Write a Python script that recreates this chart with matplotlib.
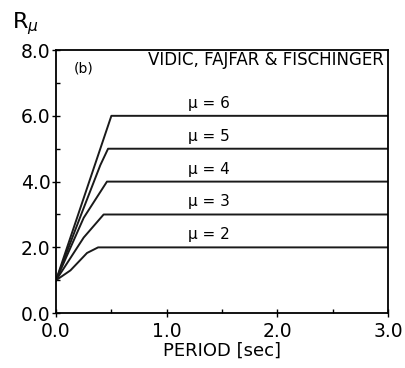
"""Vidic, Fajfar & Fischinger R-mu-T spectra, panel (b)."""

import matplotlib.pyplot as plt
from matplotlib.ticker import MultipleLocator

# ductility levels and the curves
mu_levels = [2, 3, 4, 5, 6]
period = {
    2: [0.0, 0.13, 0.28, 0.38, 3.0],
    3: [0.0, 0.25, 0.43, 3.0],
    4: [0.0, 0.25, 0.46, 3.0],
    5: [0.0, 0.25, 0.40, 0.47, 3.0],
    6: [0.0, 0.25, 0.40, 0.50, 3.0],
}
r_mu = {
    2: [1.0, 1.30, 1.83, 2.0, 2.0],
    3: [1.0, 2.30, 3.0, 3.0],
    4: [1.0, 2.90, 4.0, 4.0],
    5: [1.0, 3.20, 4.50, 5.0, 5.0],
    6: [1.0, 3.50, 5.0, 6.0, 6.0],
}
x_ticks = [0.0, 1.0, 2.0, 3.0]
y_ticks = [0.0, 2.0, 4.0, 6.0, 8.0]

fig = plt.figure(figsize=(4.06, 3.68), dpi=100)
ax = fig.add_axes([0.138, 0.149, 0.818, 0.715])

for mu in mu_levels:
    ax.plot(period[mu], r_mu[mu], color="#1a1a1a", lw=1.4)
    ax.text(1.38, mu + 0.38, f"\u03bc = {mu}", ha="center", va="center",
            fontsize=11)

ax.set_xlim(0, 3.0)
ax.set_ylim(0, 8.0)
ax.set_xticks(x_ticks)
ax.set_yticks(y_ticks)
ax.set_xticklabels([f"{v:.1f}" for v in x_ticks])
ax.set_yticklabels([f"{v:.1f}" for v in y_ticks])
ax.xaxis.set_minor_locator(MultipleLocator(0.5))
ax.yaxis.set_minor_locator(MultipleLocator(1.0))
ax.tick_params(which="major", direction="inout", length=6, width=1.0,
               labelsize=13.5)
ax.tick_params(axis="y", which="major", pad=1)
ax.tick_params(axis="x", which="major", pad=3)
ax.tick_params(which="minor", direction="in", length=3, width=1.0)
for s in ax.spines.values():
    s.set_linewidth(1.3)

ax.text(0.25, 7.45, "(b)", ha="center", va="center", fontsize=10)
ax.text(2.96, 7.7, "VIDIC, FAJFAR & FISCHINGER", ha="right", va="center",
        fontsize=12)
ax.set_xlabel("PERIOD [sec]", fontsize=13, labelpad=1)
fig.text(0.062, 0.935, r"R$_{\mu}$", ha="center", va="center", fontsize=16)

fig.savefig("out.png", dpi=100)
